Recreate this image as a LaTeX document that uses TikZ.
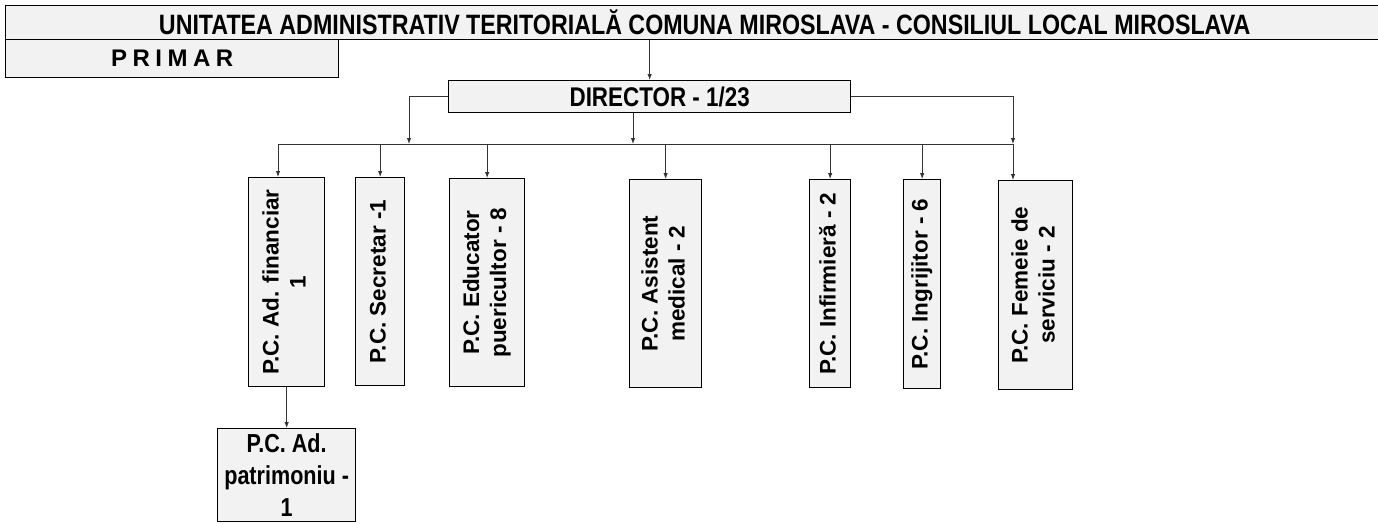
\documentclass[tikz,border=0pt]{standalone}
\usepackage{fontspec}
\usepackage{graphicx}
\setmainfont{Liberation Sans}
\newfontfamily\narrowfont[FakeStretch=0.83]{Liberation Sans}
\usetikzlibrary{arrows.meta}
\tikzset{
  box/.style={draw=black, line width=1.3pt, fill=black!5, inner sep=0pt, anchor=north west},
  vtext/.style={font=\bfseries\fontsize{22.5}{27}\selectfont},
  conn/.style={draw=black!80, line width=0.9pt},
  arr/.style={conn, -{Latex[length=6pt,width=4.5pt]}},
}
\newcommand{\vlab}[1]{\rotatebox{90}{\begin{tabular}{@{}c@{}}#1\end{tabular}}}
\newcommand{\lettergap}{\hspace{5.5pt}}
\begin{document}
\begin{tikzpicture}[x=1pt,y=-1pt]
\useasboundingbox (0,0) rectangle (1378,523);
% header boxes
\node[box, minimum width=1373pt, minimum height=34pt,
      font=\narrowfont\bfseries\fontsize{28}{30}\selectfont] (header) at (5,5)
  {\hspace*{25pt}UNITATEA ADMINISTRATIV TERITORIALĂ COMUNA MIROSLAVA - CONSILIUL LOCAL MIROSLAVA};
\node[box, minimum width=333pt, minimum height=38pt,
      font=\bfseries\fontsize{24}{27}\selectfont] (primar) at (5,39)
  {P\lettergap R\lettergap I\lettergap M\lettergap A\lettergap R};
\node[box, minimum width=402pt, minimum height=32pt,
      font=\narrowfont\bfseries\fontsize{27}{30}\selectfont] (director) at (448,80)
  {\hspace*{20pt}DIRECTOR - 1/23};
% vertical boxes
\node[box, vtext, minimum width=76pt, minimum height=209pt] (adfin) at (248,177) {\vlab{P.C. Ad. financiar\\1}};
\node[box, vtext, minimum width=49pt, minimum height=208pt] (secretar) at (355,177) {\vlab{P.C. Secretar -1}};
\node[box, vtext, minimum width=75pt, minimum height=208pt] (educator) at (449,178) {\vlab{P.C. Educator\\puericultor - 8}};
\node[box, vtext, minimum width=72pt, minimum height=208pt] (asistent) at (629,179) {\vlab{P.C. Asistent\\medical - 2}};
\node[box, vtext, minimum width=41pt, minimum height=208pt] (infirm) at (809,179) {\vlab{P.C. Infirmieră - 2}};
\node[box, vtext, minimum width=37pt, minimum height=209pt] (ingrij) at (903,179) {\vlab{P.C. Ingrijitor - 6}};
\node[box, vtext, minimum width=74pt, minimum height=209pt] (femeie) at (998,180) {\vlab{P.C. Femeie de\\serviciu - 2}};
\node[box, minimum width=138pt, minimum height=93pt, align=center,
      font=\narrowfont\bfseries\fontsize{26}{32}\selectfont] (patr) at (217,428) {P.C. Ad.\\patrimoniu -\\1};
% connectors
\coordinate (busL) at (278,144);
\coordinate (jL) at (409,144);
\coordinate (jC) at (633,144);
\coordinate (jR) at (1013,144);
\draw[conn] (busL) -- (jR);
\draw[arr] (director.north |- header.south) -- (director.north);
\draw[arr] (director.west) -| (jL);
\draw[arr] (jC |- director.south) -- (jC);
\draw[arr] (director.east) -| (jR);
\draw[arr] (busL) -- (busL |- adfin.north);
\draw[arr] (secretar.north |- busL) -- (secretar.north);
\draw[arr] (educator.north |- busL) -- (educator.north);
\draw[arr] (asistent.north |- busL) -- (asistent.north);
\draw[arr] (infirm.north |- busL) -- (infirm.north);
\draw[arr] (ingrij.north |- busL) -- (ingrij.north);
\draw[arr] (jR) -- (jR |- femeie.north);
\draw[arr] (adfin.south) -- (adfin.south |- patr.north);
\end{tikzpicture}
\end{document}
